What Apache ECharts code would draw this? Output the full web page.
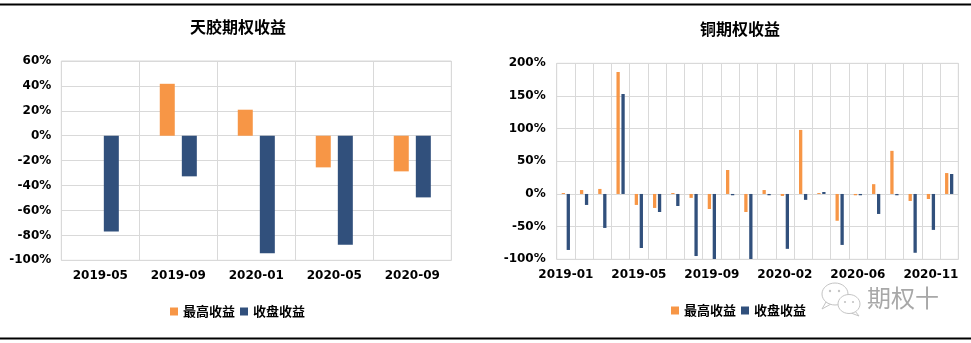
<!DOCTYPE html>
<html>
<head>
<meta charset="utf-8">
<script src="https://cdn.jsdelivr.net/npm/echarts@6/dist/echarts.min.js"></script>
<style>
  html, body { margin: 0; padding: 0; background: #fff; }
  #chart { width: 971px; height: 343px; }
</style>
</head>
<body>
<div id="chart"></div>
<script>
// 天胶期权 (rubber options) returns by contract month, in percent
const rubberMonths = ['2019-05', '2019-09', '2020-01', '2020-05', '2020-09'];
const rubberHigh = [0, 41.7, 20.9, -25.4, -28.6];
const rubberClose = [-76.8, -32.6, -94.4, -87.5, -49.5];

// 铜期权 (copper options) returns by contract month, in percent
const copperMonths = [
  '2019-01', '2019-02', '2019-03', '2019-04', '2019-05', '2019-06', '2019-07', '2019-08',
  '2019-09', '2019-10', '2019-12', '2020-01', '2020-02', '2020-03', '2020-04', '2020-05',
  '2020-06', '2020-07', '2020-08', '2020-10', '2020-11', '2020-12'
];
const copperHigh = [1.5, 6, 7.7, 186.7, -16.8, -21.4, 1.5, -6, -23, 36.7, -27.6,
                    6, -3, 98, 1.5, -41, -2, 15, 66, -10.7, -7.7, 32];
const copperClose = [-85.7, -16.8, -52, 153, -82.7, -27.6, -18.4, -95, -99.5, -2, -99.5,
                     -2, -84, -9, 3, -78, -2, -30.6, -2, -90, -55, 30.6];

const seriesNames = ['最高收益', '收盘收益'];
const ORANGE = '#F79646';
const BLUE = '#31507C';
const GRID_LINE = '#d9d9d9';
const LATIN = 'DejaVu Sans';
const CJK = '"Noto Sans CJK SC", "Noto Sans", sans-serif';

const axisText = { fontFamily: LATIN, fontWeight: 'bold', fontSize: 12, color: '#000' };

function catAxis(idx, data, labelInterval) {
  return {
    type: 'category', gridIndex: idx, data: data, position: 'bottom',
    axisLine: { show: false, onZero: false },
    axisTick: { show: false },
    axisLabel: Object.assign({ interval: labelInterval, margin: 10 }, axisText),
    splitLine: { show: true, interval: 0, lineStyle: { color: GRID_LINE, width: 1 } }
  };
}
function valAxis(idx, min, max, interval, margin) {
  return {
    type: 'value', gridIndex: idx, min: min, max: max, interval: interval,
    axisLine: { show: false }, axisTick: { show: false },
    axisLabel: Object.assign({ formatter: '{value}%', margin: margin }, axisText),
    splitLine: { lineStyle: { color: GRID_LINE, width: 1 } }
  };
}

const chart = echarts.init(document.getElementById('chart'), null, { renderer: 'canvas' });
chart.setOption({
  animation: false,
  backgroundColor: '#fff',
  title: [
    { text: '天胶期权收益', left: 233, top: 13.5, textAlign: 'center',
      textStyle: { fontFamily: CJK, fontWeight: 'bold', fontSize: 16, color: '#000' } },
    { text: '铜期权收益', left: 735, top: 15.5, textAlign: 'center',
      textStyle: { fontFamily: CJK, fontWeight: 'bold', fontSize: 16, color: '#000' } }
  ],
  legend: [
    { data: seriesNames, left: 165, top: 300, itemWidth: 8, itemHeight: 8, itemGap: 5,
      icon: 'rect', textStyle: { fontFamily: CJK, fontWeight: 'bold', fontSize: 13, color: '#000' } },
    { data: seriesNames, left: 666, top: 299, itemWidth: 8, itemHeight: 8, itemGap: 5,
      icon: 'rect', textStyle: { fontFamily: CJK, fontWeight: 'bold', fontSize: 13, color: '#000' } }
  ],
  grid: [
    { left: 61.3, top: 61, width: 390, height: 199.3, show: true, borderColor: GRID_LINE, borderWidth: 1 },
    { left: 556.7, top: 63.3, width: 401.6, height: 196, show: true, borderColor: GRID_LINE, borderWidth: 1 }
  ],
  xAxis: [catAxis(0, rubberMonths, 0), catAxis(1, copperMonths, 3)],
  yAxis: [valAxis(0, -100, 60, 20, 10), valAxis(1, -100, 200, 50, 11)],
  series: [
    { name: seriesNames[0], type: 'bar', xAxisIndex: 0, yAxisIndex: 0, data: rubberHigh,
      barWidth: 15, barGap: '47%', itemStyle: { color: ORANGE } },
    { name: seriesNames[1], type: 'bar', xAxisIndex: 0, yAxisIndex: 0, data: rubberClose,
      barWidth: 15, barGap: '47%', itemStyle: { color: BLUE } },
    { name: seriesNames[0], type: 'bar', xAxisIndex: 1, yAxisIndex: 1, data: copperHigh,
      barWidth: 3.3, barGap: '50%', itemStyle: { color: ORANGE } },
    { name: seriesNames[1], type: 'bar', xAxisIndex: 1, yAxisIndex: 1, data: copperClose,
      barWidth: 3.3, barGap: '50%', itemStyle: { color: BLUE } }
  ],
  graphic: [
    // frame rules above and below the two panels
    { type: 'line', shape: { x1: 0, y1: 4.5, x2: 971, y2: 4.5 }, style: { stroke: '#000', lineWidth: 2 }, silent: true },
    { type: 'line', shape: { x1: 0, y1: 338.5, x2: 971, y2: 338.5 }, style: { stroke: '#000', lineWidth: 2 }, silent: true },
    // account badge: two speech bubbles and the name
    { type: 'group', silent: true, children: [
      { type: 'polygon', shape: { points: [[826, 302], [822, 309], [831, 304]] },
        style: { fill: '#fff', stroke: '#c4c4c4', lineWidth: 1 } },
      { type: 'ellipse', shape: { cx: 835, cy: 294, rx: 13, ry: 11 },
        style: { fill: '#fff', stroke: '#c4c4c4', lineWidth: 1 } },
      { type: 'circle', shape: { cx: 830, cy: 291, r: 1.2 }, style: { fill: '#c4c4c4' } },
      { type: 'circle', shape: { cx: 839, cy: 291, r: 1.2 }, style: { fill: '#c4c4c4' } },
      { type: 'polygon', shape: { points: [[855, 311], [859, 316], [851, 313]] },
        style: { fill: '#fff', stroke: '#c4c4c4', lineWidth: 1 } },
      { type: 'ellipse', shape: { cx: 849, cy: 304, rx: 11, ry: 9.5 },
        style: { fill: '#fff', stroke: '#c4c4c4', lineWidth: 1 } },
      { type: 'circle', shape: { cx: 845, cy: 302, r: 1.1 }, style: { fill: '#c4c4c4' } },
      { type: 'circle', shape: { cx: 853, cy: 302, r: 1.1 }, style: { fill: '#c4c4c4' } },
      { type: 'text', left: 867, top: 286,
        style: { text: '期权十', fill: '#a8a8a8', fontFamily: CJK, fontSize: 24, fontWeight: 'normal' } }
    ] }
  ]
});
</script>
</body>
</html>
